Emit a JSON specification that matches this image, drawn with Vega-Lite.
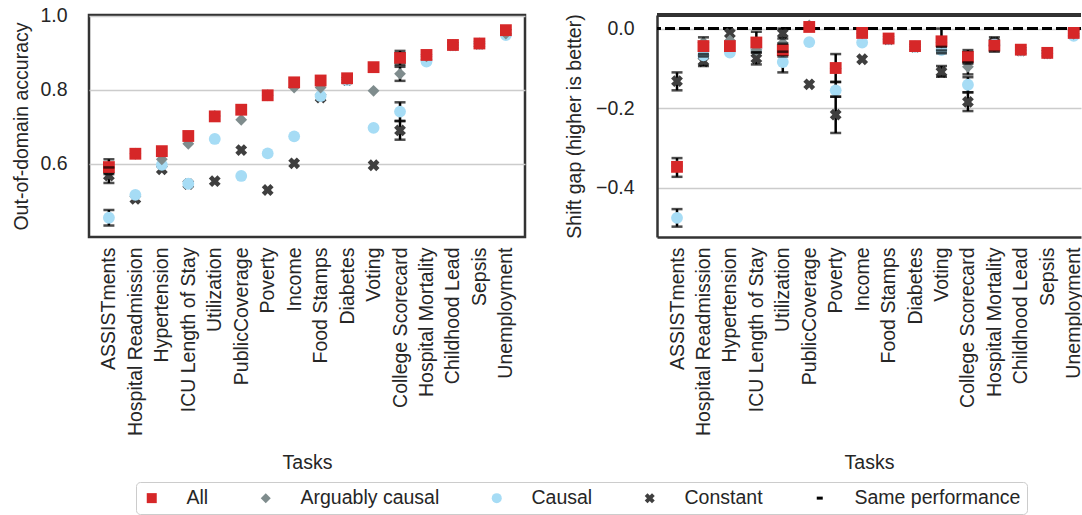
{
  "$schema": "https://vega.github.io/schema/vega-lite/v6.json",
  "padding": {"left": 10, "top": 4, "right": 0, "bottom": 0},
  "background": "white",
  "config": {
    "font": "Liberation Sans",
    "view": {"stroke": "#333333", "strokeWidth": 2.5},
    "axis": {
      "labelFont": "Liberation Sans", "labelFontSize": 19.5, "labelColor": "#262626",
      "titleFont": "Liberation Sans", "titleFontSize": 19.5, "titleFontWeight": "normal", "titleColor": "#262626",
      "domain": false, "ticks": false, "gridColor": "#cccccc", "gridWidth": 1.5
    },
    "axisX": {"grid": false, "labelAngle": -90, "labelPadding": 10, "titlePadding": 18, "labelLimit": 400, "labelOverlap": false},
    "axisY": {"grid": true},
    "legend": {"title": " ", "titleOrient": "left", "titleFontSize": 19.5, "titlePadding": 10, "orient": "none", "legendX": 47, "legendY": 467, "direction": "horizontal", "columns": 5, "symbolSize": 100, "labelFontSize": 19.5, "labelFont": "Liberation Sans", "labelColor": "#262626", "labelOffset": 25, "columnPadding": 47, "padding": 6, "strokeColor": "#cccccc", "cornerRadius": 4, "fillColor": "white", "labelLimit": 300, "symbolStrokeWidth": 0}
  },
  "datasets": {
    "acc": [
      {"task": "ASSISTments", "group": "Constant", "value": 0.568, "lo": 0.548, "hi": 0.59},
      {"task": "Hospital Readmission", "group": "Constant", "value": 0.505},
      {"task": "Hypertension", "group": "Constant", "value": 0.585},
      {"task": "ICU Length of Stay", "group": "Constant", "value": 0.545},
      {"task": "Utilization", "group": "Constant", "value": 0.553},
      {"task": "PublicCoverage", "group": "Constant", "value": 0.637},
      {"task": "Poverty", "group": "Constant", "value": 0.529},
      {"task": "Income", "group": "Constant", "value": 0.601},
      {"task": "Food Stamps", "group": "Constant", "value": 0.779},
      {"task": "Diabetes", "group": "Constant", "value": 0.826},
      {"task": "Voting", "group": "Constant", "value": 0.596},
      {"task": "College Scorecard", "group": "Constant", "value": 0.69, "lo": 0.665, "hi": 0.715},
      {"task": "Hospital Mortality", "group": "Constant", "value": 0.888},
      {"task": "Childhood Lead", "group": "Constant", "value": 0.92},
      {"task": "Sepsis", "group": "Constant", "value": 0.924},
      {"task": "Unemployment", "group": "Constant", "value": 0.955},
      {"task": "ASSISTments", "group": "Causal", "value": 0.454, "lo": 0.433, "hi": 0.475},
      {"task": "Hospital Readmission", "group": "Causal", "value": 0.516},
      {"task": "Hypertension", "group": "Causal", "value": 0.597},
      {"task": "ICU Length of Stay", "group": "Causal", "value": 0.546},
      {"task": "Utilization", "group": "Causal", "value": 0.667},
      {"task": "PublicCoverage", "group": "Causal", "value": 0.567},
      {"task": "Poverty", "group": "Causal", "value": 0.628},
      {"task": "Income", "group": "Causal", "value": 0.674},
      {"task": "Food Stamps", "group": "Causal", "value": 0.783},
      {"task": "Diabetes", "group": "Causal", "value": 0.826},
      {"task": "Voting", "group": "Causal", "value": 0.697},
      {"task": "College Scorecard", "group": "Causal", "value": 0.741, "lo": 0.716, "hi": 0.766},
      {"task": "Hospital Mortality", "group": "Causal", "value": 0.876},
      {"task": "Childhood Lead", "group": "Causal", "value": 0.92},
      {"task": "Sepsis", "group": "Causal", "value": 0.924},
      {"task": "Unemployment", "group": "Causal", "value": 0.948},
      {"task": "ASSISTments", "group": "Arguably causal", "value": 0.589},
      {"task": "Hospital Readmission", "group": "Arguably causal", "value": 0.627},
      {"task": "Hypertension", "group": "Arguably causal", "value": 0.612},
      {"task": "ICU Length of Stay", "group": "Arguably causal", "value": 0.654},
      {"task": "Utilization", "group": "Arguably causal", "value": 0.729},
      {"task": "PublicCoverage", "group": "Arguably causal", "value": 0.719},
      {"task": "Poverty", "group": "Arguably causal", "value": 0.785},
      {"task": "Income", "group": "Arguably causal", "value": 0.806},
      {"task": "Food Stamps", "group": "Arguably causal", "value": 0.806},
      {"task": "Diabetes", "group": "Arguably causal", "value": 0.828},
      {"task": "Voting", "group": "Arguably causal", "value": 0.797},
      {"task": "College Scorecard", "group": "Arguably causal", "value": 0.843, "lo": 0.824, "hi": 0.862},
      {"task": "Hospital Mortality", "group": "Arguably causal", "value": 0.89},
      {"task": "Childhood Lead", "group": "Arguably causal", "value": 0.921},
      {"task": "Sepsis", "group": "Arguably causal", "value": 0.925},
      {"task": "Unemployment", "group": "Arguably causal", "value": 0.952},
      {"task": "ASSISTments", "group": "All", "value": 0.591, "lo": 0.572, "hi": 0.612},
      {"task": "Hospital Readmission", "group": "All", "value": 0.627},
      {"task": "Hypertension", "group": "All", "value": 0.634},
      {"task": "ICU Length of Stay", "group": "All", "value": 0.675},
      {"task": "Utilization", "group": "All", "value": 0.728},
      {"task": "PublicCoverage", "group": "All", "value": 0.746},
      {"task": "Poverty", "group": "All", "value": 0.785},
      {"task": "Income", "group": "All", "value": 0.82},
      {"task": "Food Stamps", "group": "All", "value": 0.825},
      {"task": "Diabetes", "group": "All", "value": 0.831},
      {"task": "Voting", "group": "All", "value": 0.861},
      {"task": "College Scorecard", "group": "All", "value": 0.886, "lo": 0.867, "hi": 0.905},
      {"task": "Hospital Mortality", "group": "All", "value": 0.894},
      {"task": "Childhood Lead", "group": "All", "value": 0.921},
      {"task": "Sepsis", "group": "All", "value": 0.925},
      {"task": "Unemployment", "group": "All", "value": 0.961}
    ],
    "gap": [
      {"task": "ASSISTments", "group": "Constant", "value": -0.132, "lo": -0.155, "hi": -0.11},
      {"task": "Hospital Readmission", "group": "Constant", "value": -0.082, "lo": -0.094, "hi": -0.07},
      {"task": "Hypertension", "group": "Constant", "value": -0.012},
      {"task": "ICU Length of Stay", "group": "Constant", "value": -0.075, "lo": -0.09, "hi": -0.06},
      {"task": "Utilization", "group": "Constant", "value": -0.012, "lo": -0.025, "hi": 0.0},
      {"task": "PublicCoverage", "group": "Constant", "value": -0.14},
      {"task": "Poverty", "group": "Constant", "value": -0.216, "lo": -0.262, "hi": -0.171},
      {"task": "Income", "group": "Constant", "value": -0.077},
      {"task": "Food Stamps", "group": "Constant", "value": -0.027},
      {"task": "Diabetes", "group": "Constant", "value": -0.046},
      {"task": "Voting", "group": "Constant", "value": -0.109, "lo": -0.121, "hi": -0.094},
      {"task": "College Scorecard", "group": "Constant", "value": -0.184, "lo": -0.207, "hi": -0.16},
      {"task": "Hospital Mortality", "group": "Constant", "value": -0.035},
      {"task": "Childhood Lead", "group": "Constant", "value": -0.055},
      {"task": "Sepsis", "group": "Constant", "value": -0.062},
      {"task": "Unemployment", "group": "Constant", "value": -0.012},
      {"task": "ASSISTments", "group": "Causal", "value": -0.475, "lo": -0.497, "hi": -0.453},
      {"task": "Hospital Readmission", "group": "Causal", "value": -0.067},
      {"task": "Hypertension", "group": "Causal", "value": -0.06},
      {"task": "ICU Length of Stay", "group": "Causal", "value": -0.05},
      {"task": "Utilization", "group": "Causal", "value": -0.084, "lo": -0.11, "hi": -0.058},
      {"task": "PublicCoverage", "group": "Causal", "value": -0.034},
      {"task": "Poverty", "group": "Causal", "value": -0.155, "lo": -0.171, "hi": -0.134},
      {"task": "Income", "group": "Causal", "value": -0.035},
      {"task": "Food Stamps", "group": "Causal", "value": -0.027},
      {"task": "Diabetes", "group": "Causal", "value": -0.046},
      {"task": "Voting", "group": "Causal", "value": -0.054, "lo": -0.062, "hi": -0.046},
      {"task": "College Scorecard", "group": "Causal", "value": -0.141, "lo": -0.16, "hi": -0.122},
      {"task": "Hospital Mortality", "group": "Causal", "value": -0.04},
      {"task": "Childhood Lead", "group": "Causal", "value": -0.055},
      {"task": "Sepsis", "group": "Causal", "value": -0.062},
      {"task": "Unemployment", "group": "Causal", "value": -0.018},
      {"task": "ASSISTments", "group": "Arguably causal", "value": -0.345},
      {"task": "Hospital Readmission", "group": "Arguably causal", "value": -0.035},
      {"task": "Hypertension", "group": "Arguably causal", "value": -0.03},
      {"task": "ICU Length of Stay", "group": "Arguably causal", "value": -0.054},
      {"task": "Utilization", "group": "Arguably causal", "value": -0.036},
      {"task": "PublicCoverage", "group": "Arguably causal", "value": 0.008},
      {"task": "Poverty", "group": "Arguably causal", "value": -0.1},
      {"task": "Income", "group": "Arguably causal", "value": -0.012},
      {"task": "Food Stamps", "group": "Arguably causal", "value": -0.026},
      {"task": "Diabetes", "group": "Arguably causal", "value": -0.045},
      {"task": "Voting", "group": "Arguably causal", "value": -0.035},
      {"task": "College Scorecard", "group": "Arguably causal", "value": -0.096, "lo": -0.115, "hi": -0.085},
      {"task": "Hospital Mortality", "group": "Arguably causal", "value": -0.044},
      {"task": "Childhood Lead", "group": "Arguably causal", "value": -0.054},
      {"task": "Sepsis", "group": "Arguably causal", "value": -0.062},
      {"task": "Unemployment", "group": "Arguably causal", "value": -0.013},
      {"task": "ASSISTments", "group": "All", "value": -0.347, "lo": -0.372, "hi": -0.325},
      {"task": "Hospital Readmission", "group": "All", "value": -0.044, "lo": -0.064, "hi": -0.022},
      {"task": "Hypertension", "group": "All", "value": -0.044},
      {"task": "ICU Length of Stay", "group": "All", "value": -0.035, "lo": -0.06, "hi": -0.008},
      {"task": "Utilization", "group": "All", "value": -0.054, "lo": -0.07, "hi": -0.038},
      {"task": "PublicCoverage", "group": "All", "value": 0.004},
      {"task": "Poverty", "group": "All", "value": -0.099, "lo": -0.134, "hi": -0.064},
      {"task": "Income", "group": "All", "value": -0.011},
      {"task": "Food Stamps", "group": "All", "value": -0.025},
      {"task": "Diabetes", "group": "All", "value": -0.044},
      {"task": "Voting", "group": "All", "value": -0.032, "lo": -0.055, "hi": 0.0},
      {"task": "College Scorecard", "group": "All", "value": -0.071, "lo": -0.088, "hi": -0.054},
      {"task": "Hospital Mortality", "group": "All", "value": -0.043, "lo": -0.058, "hi": -0.022},
      {"task": "Childhood Lead", "group": "All", "value": -0.053},
      {"task": "Sepsis", "group": "All", "value": -0.061},
      {"task": "Unemployment", "group": "All", "value": -0.011}
    ]
  },
  "resolve": {"scale": {"color": "shared", "shape": "shared"}, "legend": {"color": "shared", "shape": "shared"}},
  "spacing": 37,
  "hconcat": [
    {
      "width": 436,
      "height": 222,
      "data": {"name": "acc"},
      "encoding": {
        "x": {"field": "task", "type": "nominal", "title": "Tasks",
          "scale": {"type": "point", "padding": 0.737, "align": 0.51,
            "domain": ["ASSISTments", "Hospital Readmission", "Hypertension", "ICU Length of Stay", "Utilization", "PublicCoverage", "Poverty", "Income", "Food Stamps", "Diabetes", "Voting", "College Scorecard", "Hospital Mortality", "Childhood Lead", "Sepsis", "Unemployment"]}}
      },
      "layer": [
        {
          "transform": [{"filter": "isValid(datum.lo)"}],
          "mark": {"type": "rule", "color": "black", "strokeWidth": 2.5},
          "encoding": {
            "y": {"field": "lo", "type": "quantitative", "title": "Out-of-domain accuracy",
              "scale": {"domain": [0.402, 1.002], "nice": false, "zero": false},
              "axis": {"values": [0.6, 0.8, 1.0], "format": ".1f", "labelPadding": 22, "titlePadding": 8}},
            "y2": {"field": "hi"}
          }
        },
        {
          "mark": {"type": "point", "filled": true, "opacity": 1, "size": 140, "strokeWidth": 0},
          "encoding": {
            "y": {"field": "value", "type": "quantitative", "title": "Out-of-domain accuracy"},
            "color": {"field": "group", "type": "nominal",
              "scale": {"domain": ["All", "Arguably causal", "Causal", "Constant", "Same performance"],
                "range": ["#d62728", "#7f8c8d", "#a6dcf5", "#3f3f3f", "#000000"]}},
            "shape": {"field": "group", "type": "nominal",
              "scale": {"domain": ["All", "Arguably causal", "Causal", "Constant", "Same performance"],
                "range": ["square", "diamond", "circle", "M-1,-0.45L-0.45,-1L0,-0.55L0.45,-1L1,-0.45L0.55,0L1,0.45L0.45,1L0,0.55L-0.45,1L-1,0.45L-0.55,0Z", "M-0.6,-0.3L0.6,-0.3L0.6,0.3L-0.6,0.3Z"]}}
          }
        },
        {
          "transform": [{"filter": "isValid(datum.lo)"}],
          "mark": {"type": "tick", "color": "black", "thickness": 2.5, "size": 11},
          "encoding": {"y": {"field": "lo", "type": "quantitative", "title": "Out-of-domain accuracy"}}
        },
        {
          "transform": [{"filter": "isValid(datum.hi)"}],
          "mark": {"type": "tick", "color": "black", "thickness": 2.5, "size": 11},
          "encoding": {"y": {"field": "hi", "type": "quantitative", "title": "Out-of-domain accuracy"}}
        }
      ]
    },
    {
      "width": 424,
      "height": 222,
      "view": {"stroke": null},
      "data": {"name": "gap"},
      "layer": [
        {
          "transform": [{"filter": "isValid(datum.lo)"}],
          "mark": {"type": "rule", "color": "black", "strokeWidth": 2.5},
          "encoding": {
            "x": {"field": "task", "type": "nominal", "title": "Tasks",
              "axis": {"domain": true, "domainColor": "#333333", "domainWidth": 2.5},
              "scale": {"type": "point", "padding": 0.516, "align": 0.733,
                "domain": ["ASSISTments", "Hospital Readmission", "Hypertension", "ICU Length of Stay", "Utilization", "PublicCoverage", "Poverty", "Income", "Food Stamps", "Diabetes", "Voting", "College Scorecard", "Hospital Mortality", "Childhood Lead", "Sepsis", "Unemployment"]}},
            "y": {"field": "lo", "type": "quantitative", "title": "Shift gap (higher is better)",
              "scale": {"domain": [-0.523, 0.034], "nice": false, "zero": false},
              "axis": {"values": [0, -0.2, -0.4], "format": ".1f", "labelPadding": 23, "titlePadding": 11, "domain": true, "domainColor": "#333333", "domainWidth": 2.5}},
            "y2": {"field": "hi"}
          }
        },
        {
          "mark": {"type": "rule", "color": "#333333", "strokeWidth": 2.5},
          "encoding": {"y": {"datum": 0.034, "type": "quantitative"}}
        },
        {
          "mark": {"type": "rule", "color": "black", "strokeWidth": 2.8, "strokeDash": [10, 4.5]},
          "encoding": {"y": {"datum": 0, "type": "quantitative"}}
        },
        {
          "mark": {"type": "point", "filled": true, "opacity": 1, "size": 140, "strokeWidth": 0},
          "encoding": {
            "x": {"field": "task", "type": "nominal", "title": "Tasks",
              "scale": {"type": "point", "padding": 0.516, "align": 0.733,
                "domain": ["ASSISTments", "Hospital Readmission", "Hypertension", "ICU Length of Stay", "Utilization", "PublicCoverage", "Poverty", "Income", "Food Stamps", "Diabetes", "Voting", "College Scorecard", "Hospital Mortality", "Childhood Lead", "Sepsis", "Unemployment"]}},
            "y": {"field": "value", "type": "quantitative", "title": "Shift gap (higher is better)"},
            "color": {"field": "group", "type": "nominal",
              "scale": {"domain": ["All", "Arguably causal", "Causal", "Constant", "Same performance"],
                "range": ["#d62728", "#7f8c8d", "#a6dcf5", "#3f3f3f", "#000000"]}},
            "shape": {"field": "group", "type": "nominal",
              "scale": {"domain": ["All", "Arguably causal", "Causal", "Constant", "Same performance"],
                "range": ["square", "diamond", "circle", "M-1,-0.45L-0.45,-1L0,-0.55L0.45,-1L1,-0.45L0.55,0L1,0.45L0.45,1L0,0.55L-0.45,1L-1,0.45L-0.55,0Z", "M-0.6,-0.3L0.6,-0.3L0.6,0.3L-0.6,0.3Z"]}}
          }
        },
        {
          "transform": [{"filter": "isValid(datum.lo)"}],
          "mark": {"type": "tick", "color": "black", "thickness": 2.5, "size": 11},
          "encoding": {
            "x": {"field": "task", "type": "nominal", "title": "Tasks",
              "scale": {"type": "point", "padding": 0.516, "align": 0.733,
                "domain": ["ASSISTments", "Hospital Readmission", "Hypertension", "ICU Length of Stay", "Utilization", "PublicCoverage", "Poverty", "Income", "Food Stamps", "Diabetes", "Voting", "College Scorecard", "Hospital Mortality", "Childhood Lead", "Sepsis", "Unemployment"]}},
            "y": {"field": "lo", "type": "quantitative", "title": "Shift gap (higher is better)"}
          }
        },
        {
          "transform": [{"filter": "isValid(datum.hi)"}],
          "mark": {"type": "tick", "color": "black", "thickness": 2.5, "size": 11},
          "encoding": {
            "x": {"field": "task", "type": "nominal", "title": "Tasks",
              "scale": {"type": "point", "padding": 0.516, "align": 0.733,
                "domain": ["ASSISTments", "Hospital Readmission", "Hypertension", "ICU Length of Stay", "Utilization", "PublicCoverage", "Poverty", "Income", "Food Stamps", "Diabetes", "Voting", "College Scorecard", "Hospital Mortality", "Childhood Lead", "Sepsis", "Unemployment"]}},
            "y": {"field": "hi", "type": "quantitative", "title": "Shift gap (higher is better)"}
          }
        }
      ]
    }
  ]
}
